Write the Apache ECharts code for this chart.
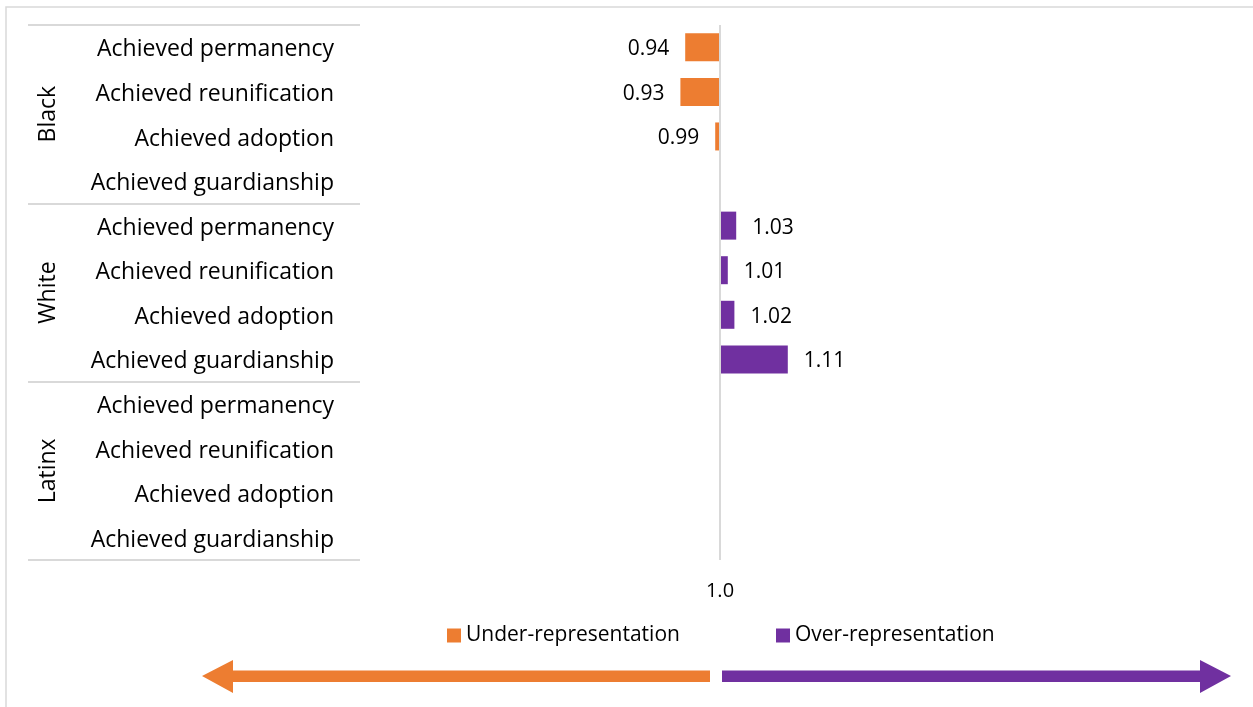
<!DOCTYPE html>
<html>
<head>
<meta charset="utf-8">
<script src="https://cdn.jsdelivr.net/npm/echarts@6/dist/echarts.min.js"></script>
<style>
html,body{margin:0;padding:0;background:#fff;}
#chart{width:1253px;height:707px;}
</style>
</head>
<body>
<div id="chart"></div>
<script>
// ---- data ----
var groups = ['Black', 'White', 'Latinx'];
var outcomes = ['Achieved permanency', 'Achieved reunification', 'Achieved adoption', 'Achieved guardianship'];
var categories = [].concat(outcomes, outcomes, outcomes);
var underValues = [0.942, 0.934, 0.992, null, null, null, null, null, null, null, null, null];
var overValues  = [null, null, null, null, 1.027, 1.013, 1.024, 1.113, null, null, null, null];
var baseline = 1.0;
var axisTickLabels = ['1.0'];
var legendNames = ['Under-representation', 'Over-representation'];

var ORANGE = '#ED7D31', PURPLE = '#7030A0', GRID = '#d9d9d9';
var FONT = 'Open Sans';

function dev(arr) { return arr.map(function (v) { return v == null ? null : +(v - baseline).toFixed(4); }); }

var chart = echarts.init(document.getElementById('chart'));
chart.setOption({
  animation: false,
  textStyle: { fontFamily: FONT, color: '#000' },
  grid: { left: 360, right: 173, top: 25, bottom: 147 },
  legend: [
    { data: [legendNames[0]], left: 442, top: 620, icon: 'rect', itemWidth: 14, itemHeight: 14,
      textStyle: { fontSize: 21, color: '#000', fontFamily: FONT } },
    { data: [legendNames[1]], left: 771, top: 620, icon: 'rect', itemWidth: 14, itemHeight: 14,
      textStyle: { fontSize: 21, color: '#000', fontFamily: FONT } }
  ],
  xAxis: {
    type: 'value', min: -0.6, max: 0.6, interval: 0.6,
    axisLine: { show: false }, axisTick: { show: false }, splitLine: { show: false },
    axisLabel: { margin: 21, fontSize: 20, color: '#000', fontFamily: FONT,
      formatter: function (v) { return Math.abs(v) < 1e-9 ? axisTickLabels[0] : ''; } }
  },
  yAxis: [
    { type: 'category', data: categories, inverse: true,
      axisLine: { show: false }, axisTick: { show: false },
      axisLabel: { margin: 26, fontSize: 23, color: '#000', fontFamily: FONT,
        formatter: function (v) { return '{c|' + v + '}'; },
        rich: { c: { fontSize: 23, color: '#000', fontFamily: FONT, padding: [5, 0, 0, 0] } } } },
    { type: 'category', data: groups, inverse: true, position: 'left', offset: 0,
      axisLine: { show: false },
      axisTick: { show: true, length: 332, lineStyle: { color: GRID, width: 2 } },
      axisLabel: { rotate: 90, margin: 300, fontSize: 23, color: '#000', fontFamily: FONT } }
  ],
  series: [
    { name: legendNames[0], type: 'bar', stack: 'r', barWidth: 28, data: dev(underValues),
      itemStyle: { color: ORANGE },
      label: { show: true, position: 'left', distance: 16, offset: [0, 2], fontSize: 21, color: '#000', fontFamily: FONT,
        formatter: function (p) { return underValues[p.dataIndex].toFixed(2); } },
      markLine: { silent: true, symbol: 'none', label: { show: false },
        lineStyle: { color: GRID, width: 2, type: 'solid' }, data: [{ xAxis: 0 }] } },
    { name: legendNames[1], type: 'bar', stack: 'r', barWidth: 28, data: dev(overValues),
      itemStyle: { color: PURPLE },
      label: { show: true, position: 'right', distance: 16, offset: [0, 2], fontSize: 21, color: '#000', fontFamily: FONT,
        formatter: function (p) { return overValues[p.dataIndex].toFixed(2); } } }
  ],
  graphic: [
    { type: 'polyline', shape: { points: [[6, 707], [6, 7], [1253, 7]] }, style: { stroke: GRID, lineWidth: 1.5, fill: null } },
    { type: 'polygon', shape: { points: [[202, 676], [233, 660], [233, 670.5], [710, 670.5], [710, 682], [233, 682], [233, 693]] },
      style: { fill: ORANGE } },
    { type: 'polygon', shape: { points: [[722, 670.5], [1200, 670.5], [1200, 660], [1231, 676], [1200, 693], [1200, 682], [722, 682]] },
      style: { fill: PURPLE } }
  ]
});
</script>
</body>
</html>
